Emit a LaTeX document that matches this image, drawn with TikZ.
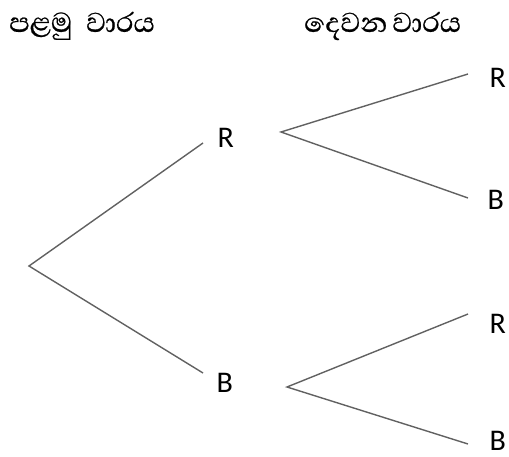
\documentclass[tikz,border=0pt]{standalone}
\usepackage{fontspec}
\setmainfont{Carlito}
\newfontfamily\sinhalafont[Script=Sinhala,FakeBold=0.6]{Abhaya Libre}
\begin{document}
\begin{tikzpicture}[x=1bp,y=-1bp,
  branch/.style={draw=black!62,line width=1.4bp},
  lbl/.style={anchor=base west,inner sep=0pt,font=\fontsize{30bp}{36bp}\selectfont},
  hdr/.style={anchor=base west,inner sep=0pt,font=\sinhalafont\fontsize{35bp}{40bp}\selectfont}]
\useasboundingbox (0,0) rectangle (509,457);
% headers
\node[hdr] (h1) at (9,32) {පළමු\hspace{14bp}වාරය};
\node[hdr] (h2) at (304,32) {දෙවන\hspace{5bp}වාරය};
% branch points
\coordinate (root) at (29,266);
\coordinate (e1) at (203,143);
\coordinate (e2) at (203,373);
\coordinate (a1) at (281,132);
\coordinate (a2) at (287,387);
\coordinate (t1) at (468,74);
\coordinate (t2) at (468,198);
\coordinate (t3) at (468,314);
\coordinate (t4) at (468,444);
% labels
\node[lbl] (R1) at (217.5,148) {R};
\node[lbl] (B1) at (216.5,392) {B};
\node[lbl] (R2) at (489.5,88) {R};
\node[lbl] (B2) at (487.5,210) {B};
\node[lbl] (R3) at (489.5,333) {R};
\node[lbl] (B3) at (489.5,450) {B};
% branches
\draw[branch] (e1) -- (root) -- (e2);
\draw[branch] (t1) -- (a1) -- (t2);
\draw[branch] (t3) -- (a2) -- (t4);
\end{tikzpicture}
\end{document}
